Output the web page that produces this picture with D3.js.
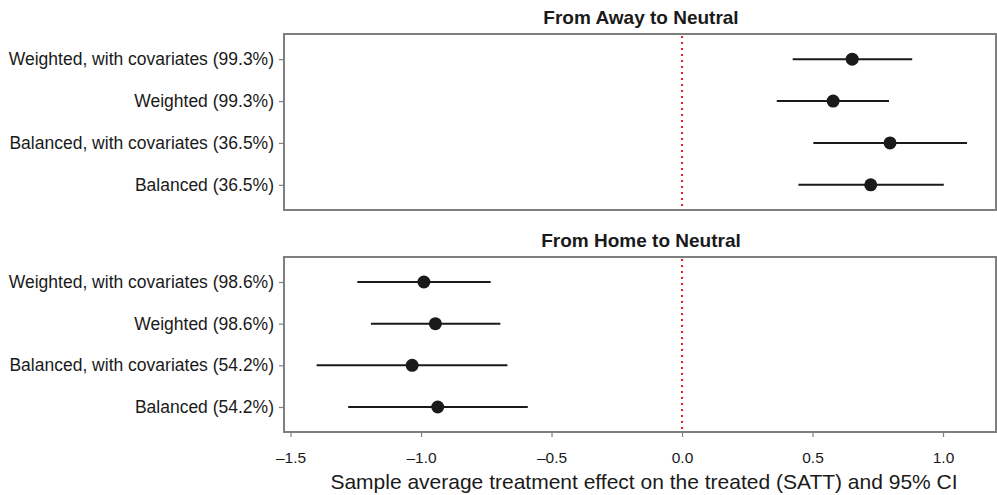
<!DOCTYPE html>
<html>
<head>
<meta charset="utf-8">
<script src="https://cdn.jsdelivr.net/npm/d3@7"></script>
<style>
  body { margin: 0; background: #fff; }
  svg { display: block; font-family: "Liberation Sans", Arial, sans-serif; }
</style>
</head>
<body>
<div id="chart"></div>
<script>
// SATT estimates with 95% CI, two panels
const panelTitles = ["From Away to Neutral", "From Home to Neutral"];
const awayLabels = [
  "Weighted, with covariates (99.3%)",
  "Weighted (99.3%)",
  "Balanced, with covariates (36.5%)",
  "Balanced (36.5%)"
];
const homeLabels = [
  "Weighted, with covariates (98.6%)",
  "Weighted (98.6%)",
  "Balanced, with covariates (54.2%)",
  "Balanced (54.2%)"
];
const awayEst = [0.652, 0.579, 0.797, 0.723];
const awayLow = [0.424, 0.363, 0.503, 0.446];
const awayHigh = [0.882, 0.793, 1.092, 1.003];
const homeEst = [-0.989, -0.945, -1.034, -0.936];
const homeLow = [-1.244, -1.192, -1.400, -1.279];
const homeHigh = [-0.733, -0.696, -0.669, -0.591];
const xTicks = [-1.5, -1.0, -0.5, 0.0, 0.5, 1.0];
const xTitle = "Sample average treatment effect on the treated (SATT) and 95% CI";

(function () {
  const W = 997, H = 495;
  const left = 284, right = 996;
  const panels = [
    { title: panelTitles[0], labels: awayLabels, est: awayEst, lo: awayLow, hi: awayHigh, top: 34, bottom: 210 },
    { title: panelTitles[1], labels: homeLabels, est: homeEst, lo: homeLow, hi: homeHigh, top: 257, bottom: 432 }
  ];

  const svg = d3.select("#chart").append("svg")
    .attr("width", W).attr("height", H);

  const x = d3.scaleLinear().domain([-1.525, 1.203]).range([left, right]);

  panels.forEach((p, i) => {
    const y = d3.scalePoint().domain(p.labels).range([p.top, p.bottom]).padding(0.6);
    const rows = p.labels.map((l, j) => ({ label: l, est: p.est[j], lo: p.lo[j], hi: p.hi[j] }));

    svg.append("text")
      .attr("x", (left + right) / 2 + 1).attr("y", p.top - 10)
      .attr("text-anchor", "middle")
      .attr("font-size", "19px").attr("font-weight", "bold")
      .attr("fill", "#1a1a1a")
      .text(p.title);

    // zero reference line
    svg.append("line")
      .attr("x1", x(0)).attr("x2", x(0))
      .attr("y1", p.top + 2).attr("y2", p.bottom)
      .attr("stroke", "#ee1c25").attr("stroke-width", 2)
      .attr("stroke-dasharray", "2 4");

    // confidence intervals
    svg.append("g").selectAll("line").data(rows).join("line")
      .attr("x1", d => x(d.lo)).attr("x2", d => x(d.hi))
      .attr("y1", d => y(d.label)).attr("y2", d => y(d.label))
      .attr("stroke", "#1a1a1a").attr("stroke-width", 2);

    svg.append("g").selectAll("circle").data(rows).join("circle")
      .attr("cx", d => x(d.est)).attr("cy", d => y(d.label))
      .attr("r", 6.5).attr("fill", "#1a1a1a");

    // y axis
    const ya = svg.append("g")
      .attr("transform", `translate(${left},0)`)
      .call(d3.axisLeft(y).tickSize(5).tickPadding(5));
    ya.select(".domain").remove();
    ya.selectAll("line").attr("stroke", "#7f7f7f").attr("stroke-width", 1.2);
    ya.selectAll("text").attr("font-size", "17.5px").attr("fill", "#1a1a1a")
      .attr("font-family", "Liberation Sans, Arial, sans-serif");

    // panel border
    svg.append("rect")
      .attr("x", left).attr("y", p.top)
      .attr("width", right - left).attr("height", p.bottom - p.top)
      .attr("fill", "none").attr("stroke", "#7f7f7f").attr("stroke-width", 2);

    if (i === 1) {
      const xa = svg.append("g")
        .attr("transform", `translate(0,${p.bottom})`)
        .call(d3.axisBottom(x).tickValues(xTicks).tickSize(5).tickPadding(15)
          .tickFormat(d => d3.format(".1f")(d).replace("−", "–").replace("-", "–")));
      xa.select(".domain").remove();
      xa.selectAll("line").attr("stroke", "#7f7f7f").attr("stroke-width", 1.2);
      xa.selectAll("text").attr("font-size", "15.5px").attr("fill", "#1a1a1a")
        .attr("font-family", "Liberation Sans, Arial, sans-serif");
    }
  });

  svg.append("text")
    .attr("x", (left + right) / 2 + 4).attr("y", 489)
    .attr("text-anchor", "middle")
    .attr("font-size", "21px").attr("fill", "#1a1a1a")
    .text(xTitle);
})();
</script>
</body>
</html>
